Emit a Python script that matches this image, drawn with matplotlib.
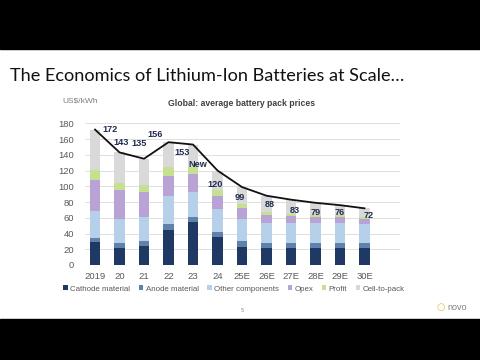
"""
Slide recreation: global average battery pack prices, stacked by cost component.
"""

import numpy as np
import matplotlib
matplotlib.use('Agg')
import matplotlib.pyplot as plt
from matplotlib.patches import Rectangle

# Data (US$/kWh)
years = ['2019', '20', '21', '22', '23', '24', '25E', '26E', '27E', '28E', '29E', '30E']
cathode = [29, 22, 24, 45, 54, 36, 23, 22, 22, 22, 22, 22]
anode = [5, 6, 6, 7, 7, 6, 7, 6, 6, 6, 6, 6]
other_components = [34, 31, 31, 36, 32, 29, 29, 25, 25, 25, 25, 24]
opex = [40, 36, 32, 25, 23, 17, 14, 10, 9, 8, 8, 7]
profit = [13, 9, 9, 12, 9, 7, 5, 4, 3, 3, 2, 2]
cell_to_pack = [51, 39, 33, 31, 28, 25, 21, 21, 18, 15, 13, 11]
totals = [172, 143, 135, 156, 153, 120, 99, 88, 83, 79, 76, 72]

series_names = ['Cathode material', 'Anode material', 'Other components',
                'Opex', 'Profit', 'Cell-to-pack']
series_colors = ['#1f3864', '#5f82ad', '#b7d0ea', '#b9a2d6', '#c5e08e', '#d9d9d9']

# label offsets in pixels (dx, dy) relative to the line point
label_offsets = [(15, 0), (2, 10), (-5, 15), (-13, 8), (-11, -8), (-2, -14),
                 (-2, -10), (3, -9), (4, -11), (0, -10), (0, -7), (4, -7)]

W, H = 480, 360
fig = plt.figure(figsize=(4.8, 3.6), dpi=100)
fig.patch.set_facecolor('white')

# video letterbox bars
fig.add_artist(Rectangle((0, 1 - 49 / H), 1, 49 / H, transform=fig.transFigure,
                         color='black', zorder=0))
fig.add_artist(Rectangle((0, 0), 1, 41 / H, transform=fig.transFigure,
                         color='black', zorder=0))

fig.text(10 / W, 1 - 76 / H, 'The Economics of Lithium-Ion Batteries at Scale\u2026',
         fontsize=13.1, family=['Lato', 'DejaVu Sans'], color='#111111', va='center')
fig.text(62 / W, 1 - 101 / H, 'US$/kWh', fontsize=6, family='Liberation Sans',
         color='#7f7f7f', va='center')
fig.text(241 / W, 1 - 104 / H, 'Global: average battery pack prices', fontsize=6.2,
         family='Liberation Sans', weight='bold', color='#404040',
         ha='center', va='center')

ax = fig.add_axes([85 / W, 1 - 265 / H, 315 / W, (265 - 123.3) / H])
x = np.arange(len(years))
bottom = np.zeros(len(years))
stack = [cathode, anode, other_components, opex, profit, cell_to_pack]
for vals, name, col in zip(stack, series_names, series_colors):
    ax.bar(x, vals, width=0.42, bottom=bottom, color=col, label=name, zorder=2)
    bottom += np.array(vals)

ax.plot(x, totals, color='#111111', linewidth=1.3, zorder=3)
for i, (t, off) in enumerate(zip(totals, label_offsets)):
    ax.annotate(str(t), (i, t), xytext=off, textcoords='offset pixels',
                ha='center', va='center', fontsize=6.6, weight='bold',
                color='#1f2d4d', family='Liberation Sans', zorder=4)
ax.annotate('New', (4, totals[4]), xytext=(5, -20), textcoords='offset pixels',
            ha='center', va='center', fontsize=6.6, weight='bold',
            color='#1f2d4d', family='Liberation Sans', zorder=4)

ax.set_xlim(-0.41, 12.45)
ax.set_ylim(0, 180)
ax.set_yticks(range(0, 181, 20))
ax.set_xticks(x)
ax.set_xticklabels(years)
ax.yaxis.grid(True, color='#d9d9d9', linewidth=0.6, zorder=0)
ax.set_axisbelow(True)
for s in ax.spines.values():
    s.set_visible(False)
ax.tick_params(length=0, labelsize=6.8, colors='#595959', pad=5)
ax.tick_params(axis='y', pad=8)
for lbl in ax.get_xticklabels() + ax.get_yticklabels():
    lbl.set_family('Liberation Sans')

fig.legend(loc='center', bbox_to_anchor=(234 / W, 1 - 289 / H), ncol=6,
           frameon=False, handlelength=0.55, handleheight=0.55,
           handletextpad=0.3, columnspacing=1.1,
           prop={'family': 'Liberation Sans', 'size': 5.7},
           labelcolor='#595959')

fig.text(242 / W, 1 - 310 / H, '5', fontsize=3.5, color='#7f7f7f', ha='center',
         va='center')
fig.text(441 / W, 1 - 307 / H, '\u25cb', fontsize=7, color='#e8c040',
         ha='center', va='center')
fig.text(447 / W, 1 - 307 / H, 'novo', fontsize=6.5, color='#7f7f7f',
         family='Liberation Sans', va='center')

fig.savefig('out.png', dpi=100)
